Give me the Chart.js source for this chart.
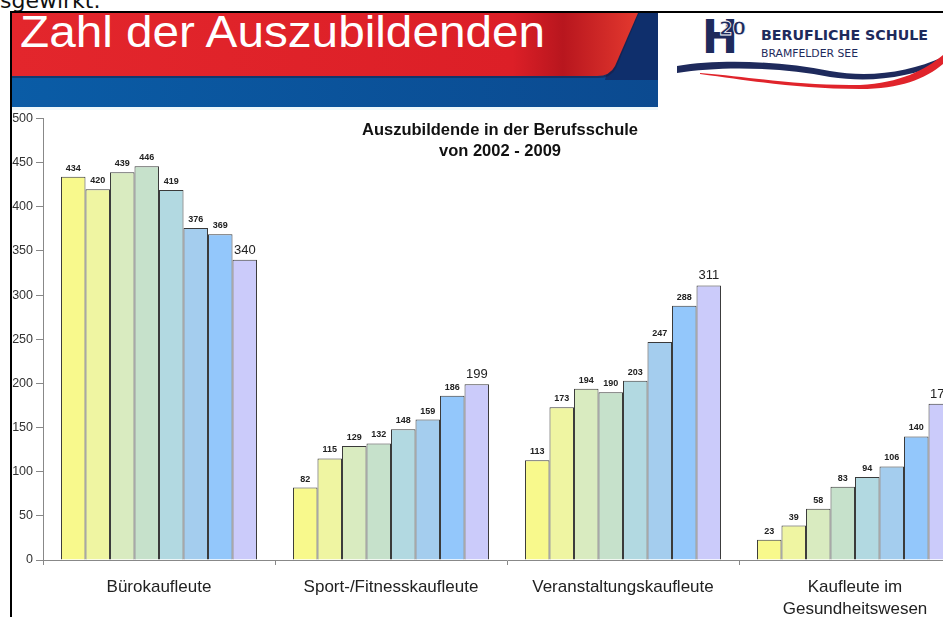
<!DOCTYPE html>
<html lang="de">
<head>
<meta charset="utf-8">
<title>Zahl der Auszubildenden</title>
<script src="https://cdn.jsdelivr.net/npm/chart.js@4/dist/chart.umd.min.js"></script>
<style>
    html, body {
        margin: 0;
        padding: 0;
        width: 943px;
        height: 617px;
        overflow: hidden;
        background: #fff;
        font-family: "Liberation Sans", Arial, sans-serif;
    }
    #kopf {
        position: absolute;
        left: 0;
        top: 0;
    }
    #rahmen-oben {
        position: absolute;
        left: 10px;
        top: 11px;
        width: 933px;
        height: 2px;
        background: #000;
        z-index: 5;
    }
    #rahmen-links {
        position: absolute;
        left: 10px;
        top: 11px;
        width: 2px;
        height: 606px;
        background: #000;
        z-index: 5;
    }
    .grafica-box {
        position: absolute;
        left: 0;
        top: 108px;
        width: 995px;
        height: 509px;
    }
    #tituloGrafica {
        position: absolute;
        left: 300px;
        top: 119px;
        width: 400px;
        text-align: center;
        font: bold 16.5px "Liberation Sans", Arial, sans-serif;
        line-height: 21px;
        color: #111;
        z-index: 4;
    }
</style>
</head>
<body>

<!-- KOPFZEILE DER FOLIE -->
<svg id="kopf" width="943" height="110" viewBox="0 0 943 110">
    <defs>
        <linearGradient id="rot" x1="0" x2="1" y1="0" y2="0">
            <stop offset="0" stop-color="#e3262c"/>
            <stop offset="0.8" stop-color="#dc1f27"/>
            <stop offset="0.88" stop-color="#b8161e"/>
            <stop offset="1" stop-color="#e4392f"/>
        </linearGradient>
        <linearGradient id="blau" x1="0" x2="1" y1="0" y2="0">
            <stop offset="0" stop-color="#0a5ca6"/>
            <stop offset="1" stop-color="#0b4a90"/>
        </linearGradient>
    </defs>
    <text x="0" y="8" font-family="DejaVu Sans" font-size="22" fill="#111">sgewirkt.</text>
    <rect x="12" y="13" width="646" height="94" fill="url(#blau)"/>
    <rect x="12" y="107" width="646" height="3" fill="#eef8fb"/>
    <path d="M620,13 L658,13 L658,80 L605,80 Z" fill="#0f2f6c"/>
    <path d="M12,13 L639,13 L616,68 Q611,78 598,78 L12,78 Z" fill="#1c1a3c" opacity="0.5"/>
    <path d="M12,13 L638,13 L615,66 Q610,76 597,76 L12,76 Z" fill="url(#rot)"/>
    <text x="20" y="47" font-family="Liberation Sans" font-size="44" fill="#fff" textLength="525" lengthAdjust="spacingAndGlyphs">Zahl der Auszubildenden</text>

    <!-- Logo -->
    <text x="702" y="53" font-family="DejaVu Sans" font-weight="bold" font-size="46" fill="#1e2a5c" textLength="36" lengthAdjust="spacingAndGlyphs">H</text>
    <text x="719" y="35" font-family="DejaVu Sans" font-weight="bold" font-size="20" fill="#1e2a5c" stroke="#fff" stroke-width="0.8" textLength="27" lengthAdjust="spacingAndGlyphs">20</text>
    <text x="761" y="40" font-family="DejaVu Sans" font-weight="bold" font-size="13.5" fill="#1e2a5c" textLength="167" lengthAdjust="spacingAndGlyphs">BERUFLICHE SCHULE</text>
    <text x="761" y="57" font-family="DejaVu Sans" font-size="10.5" fill="#1e2a5c" textLength="97" lengthAdjust="spacingAndGlyphs">BRAMFELDER SEE</text>
    <path d="M677,66 C720,59 780,61 830,71 C870,78 910,72 943,57 L943,62 C910,78 870,83 830,77 C780,67 720,66 677,73 Z" fill="#1e2a5c"/>
    <path d="M700,73 C760,78 800,86 860,85 C900,83 925,70 943,55 L943,64 C925,79 900,89 860,89 C800,89 760,82 700,74 Z" fill="#e0242b"/>
</svg>
<div id="rahmen-oben"></div>
<div id="rahmen-links"></div>

<div id="tituloGrafica">Auszubildende in der Berufsschule<br>von 2002 - 2009</div>

<div class="grafica-box">
    <canvas id="grafica"></canvas>
</div>

<script>
// DATEN DER GRAFIK
const categorias = ['Bürokaufleute', 'Sport-/Fitnesskaufleute', 'Veranstaltungskaufleute', ['Kaufleute im', 'Gesundheitswesen']];
const jahre = ['2002', '2003', '2004', '2005', '2006', '2007', '2008', '2009'];

// Werte pro Jahr, in der Reihenfolge der Kategorien
const werte2002 = [434, 82, 113, 23];
const werte2003 = [420, 115, 173, 39];
const werte2004 = [439, 129, 194, 58];
const werte2005 = [446, 132, 190, 83];
const werte2006 = [419, 148, 203, 94];
const werte2007 = [376, 159, 247, 106];
const werte2008 = [369, 186, 288, 140];
const werte2009 = [340, 199, 311, 177];

const werte = [werte2002, werte2003, werte2004, werte2005, werte2006, werte2007, werte2008, werte2009];

// Y-Achse 0 bis 500 in Schritten von 50
const yMin = 0;
const yMax = 500;
const ySchritt = 50;

// Farben der Balken (gelb -> blau -> lila)
const farben = ['#f8f98c', '#eff5a2', '#d9ebc0', '#c6e1cb', '#b2d9e1', '#a4cdee', '#93c7fb', '#cbcbfa'];

const schrift = '"Liberation Sans", Arial, sans-serif';

// Plugin: Zahlen über den Balken
const etiquetasPlugin = {
    id: 'etiquetas',
    afterDatasetsDraw(chart) {
        const ctx = chart.ctx;
        const ultimo = chart.data.datasets.length - 1;
        chart.data.datasets.forEach((ds, i) => {
            const meta = chart.getDatasetMeta(i);
            const grande = i === ultimo;
            ctx.save();
            ctx.font = grande ? '13px ' + schrift : 'bold 9px ' + schrift;
            ctx.fillStyle = '#222';
            ctx.textAlign = 'center';
            ctx.textBaseline = 'bottom';
            meta.data.forEach((bar, j) => {
                ctx.fillText(ds.data[j], bar.x, bar.y - (grande ? 3 : 4));
            });
            ctx.restore();
        });
    }
};

const datasets = jahre.map((jahr, i) => ({
    label: jahr,
    data: werte[i],
    backgroundColor: farben[i],
    borderColor: '#3a3a3a',
    borderWidth: 1,
    categoryPercentage: 0.845,
    barPercentage: 1
}));

new Chart(document.getElementById('grafica'), {
    type: 'bar',
    data: {
        labels: categorias,
        datasets: datasets
    },
    options: {
        responsive: true,
        maintainAspectRatio: false,
        animation: false,
        layout: {
            padding: { top: 10, right: 24, left: 0, bottom: 0 }
        },
        plugins: {
            legend: { display: false },
            tooltip: { enabled: false }
        },
        scales: {
            x: {
                afterFit: (scale) => { scale.height = 57; },
                grid: {
                    offset: true,
                    drawOnChartArea: false,
                    drawTicks: true,
                    tickLength: 5,
                    color: '#888'
                },
                border: { display: true, color: '#888' },
                ticks: {
                    padding: 12,
                    color: '#222',
                    maxRotation: 0,
                    autoSkip: false,
                    font: { family: schrift, size: 17, lineHeight: 1.25 }
                }
            },
            y: {
                min: yMin,
                max: yMax,
                afterFit: (scale) => { scale.width = 43; },
                grid: {
                    drawOnChartArea: false,
                    drawTicks: true,
                    tickLength: 7,
                    color: '#888'
                },
                border: { display: true, color: '#888' },
                ticks: {
                    stepSize: ySchritt,
                    padding: 3,
                    color: '#333',
                    font: { family: schrift, size: 12.5 }
                }
            }
        }
    },
    plugins: [etiquetasPlugin]
});
</script>
</body>
</html>
